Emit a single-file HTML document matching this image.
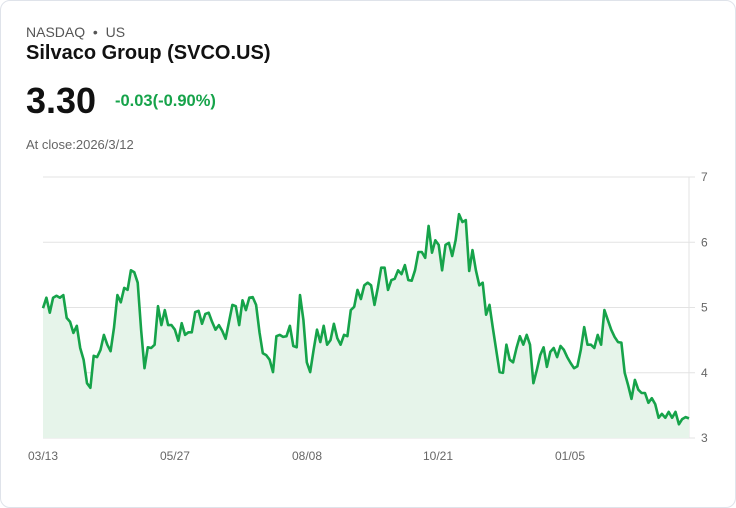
<!DOCTYPE html>
<html><head><meta charset="utf-8"><style>
body{margin:0;background:#fff;font-family:"Liberation Sans",Arial,sans-serif;}
.card{position:absolute;left:0;top:0;width:734px;height:506px;border:1px solid #dfe3ea;border-radius:10px;background:#fff;}
.t{position:absolute;white-space:nowrap;}
</style></head><body>
<div class="card">
<div class="t" style="left:25px;top:23px;font-size:14px;color:#555;">NASDAQ &nbsp;•&nbsp; US</div>
<div class="t" style="left:25px;top:41px;font-size:20px;font-weight:bold;color:#111;">Silvaco Group (SVCO.US)</div>
<div class="t" style="left:25px;top:79px;font-size:36px;font-weight:bold;color:#111;">3.30</div>
<div class="t" style="left:114px;top:91px;font-size:16.5px;font-weight:bold;color:#16a34a;">-0.03(-0.90%)</div>
<div class="t" style="left:25px;top:136px;font-size:13px;color:#666;">At close:2026/3/12</div>
<svg id="chart" width="736" height="508" style="position:absolute;left:-1px;top:-1px;"></svg>
</div>
<script>
const values=[4.99,5.15,4.92,5.15,5.18,5.15,5.19,4.84,4.78,4.61,4.72,4.38,4.20,3.84,3.77,4.26,4.24,4.35,4.58,4.43,4.33,4.69,5.19,5.08,5.30,5.27,5.57,5.54,5.38,4.66,4.07,4.39,4.38,4.43,5.02,4.73,4.96,4.73,4.73,4.66,4.49,4.76,4.58,4.62,4.62,4.93,4.95,4.75,4.90,4.92,4.78,4.66,4.73,4.64,4.52,4.78,5.04,5.02,4.73,5.11,4.96,5.15,5.16,5.04,4.62,4.30,4.27,4.20,4.01,4.56,4.58,4.55,4.56,4.72,4.41,4.39,5.19,4.81,4.16,4.01,4.35,4.66,4.47,4.72,4.43,4.50,4.75,4.53,4.43,4.58,4.56,4.96,5.01,5.27,5.13,5.34,5.38,5.34,5.04,5.30,5.61,5.61,5.27,5.42,5.44,5.57,5.51,5.65,5.42,5.41,5.57,5.85,5.85,5.76,6.25,5.84,6.03,5.96,5.57,5.96,5.99,5.79,6.03,6.43,6.31,6.34,5.56,5.88,5.57,5.34,5.38,4.89,5.04,4.69,4.35,4.01,4.00,4.43,4.20,4.16,4.38,4.56,4.43,4.58,4.43,3.84,4.04,4.27,4.39,4.09,4.32,4.38,4.24,4.41,4.35,4.24,4.15,4.07,4.10,4.35,4.70,4.43,4.43,4.38,4.58,4.43,4.96,4.81,4.66,4.55,4.47,4.46,4.00,3.81,3.60,3.89,3.74,3.69,3.69,3.54,3.61,3.52,3.31,3.37,3.31,3.40,3.31,3.40,3.21,3.29,3.32,3.30];
const yTicks=[3,4,5,6,7];
const xLabels=["03/13","05/27","08/08","10/21","01/05"];
const xLabelFrac=[0,0.2043,0.4087,0.6115,0.8158];
const X0=43,X1=689,Y0=438,Y1=177,yMin=3,yMax=7;
const sx=i=>X0+(X1-X0)*i/(values.length-1);
const sy=v=>Y0-(v-yMin)/(yMax-yMin)*(Y0-Y1);
const svg=document.getElementById('chart');const NS='http://www.w3.org/2000/svg';
function mk(t,a){const e=document.createElementNS(NS,t);for(const k in a)e.setAttribute(k,a[k]);svg.appendChild(e);return e;}
yTicks.forEach(t=>{
 const l=mk('line',{x1:X0,x2:X1+6,y1:sy(t),y2:sy(t),stroke:'#e3e3e3','stroke-width':1});
 
 
 const tx=mk('text',{x:701,y:sy(t)+4,'font-size':12,fill:'#666','font-family':'Liberation Sans, sans-serif'});
 tx.textContent=t;
 
 
});
const ax=mk('line',{x1:X1,x2:X1,y1:Y1,y2:Y0,stroke:'#e3e3e3','stroke-width':1});


xLabels.forEach((s,i)=>{
 const tx=mk('text',{x:X0+(X1-X0)*xLabelFrac[i],y:460,'font-size':12,fill:'#666','text-anchor':'middle','font-family':'Liberation Sans, sans-serif'});
 tx.textContent=s;
 
 
});
let d=values.map((v,i)=>(i?'L':'M')+sx(i).toFixed(1)+','+sy(v).toFixed(1)).join('');
const area=mk('path',{d:d+`L${X1},${Y0}L${X0},${Y0}Z`,fill:'#e6f4ea'});


const line=mk('path',{d:d,fill:'none',stroke:'#16a34a','stroke-width':2.6,'stroke-linejoin':'round'});


</script>
</body></html>
